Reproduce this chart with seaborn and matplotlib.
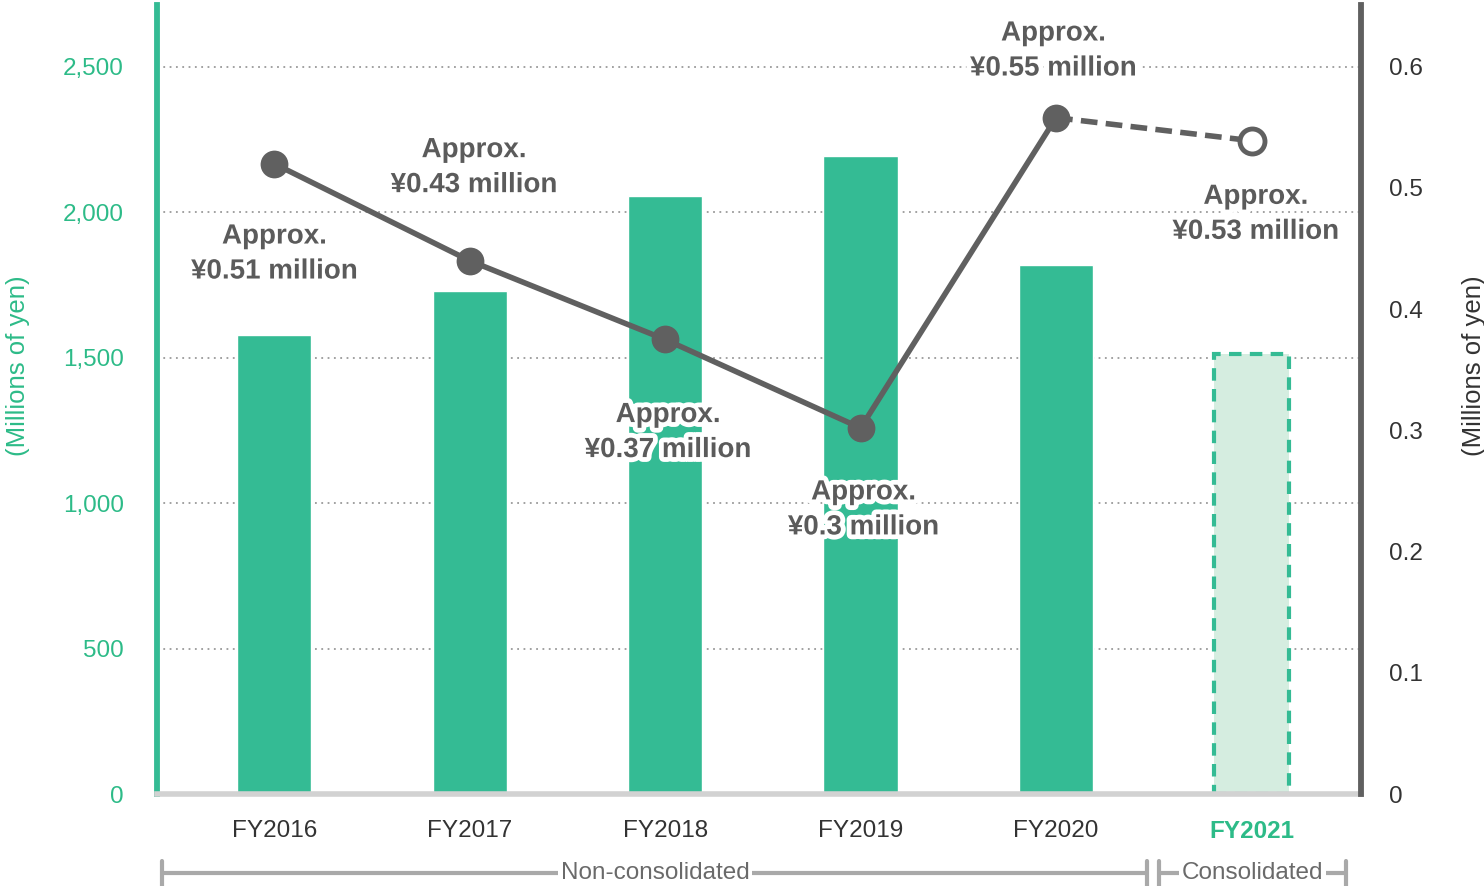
import numpy as np
import pandas as pd
import seaborn as sns
import matplotlib.pyplot as plt
import matplotlib.patheffects as pe
from matplotlib.transforms import blended_transform_factory

# data
years = ["FY2016", "FY2017", "FY2018", "FY2019", "FY2020", "FY2021"]
sales = [1578, 1730, 2056, 2194, 1819, 1513]          # millions of yen (bars, left axis)
per_head = [0.52, 0.44, 0.375, 0.302, 0.558, 0.539]   # millions of yen (line, right axis)
labels = ["Approx.\n¥0.51 million", "Approx.\n¥0.43 million", "Approx.\n¥0.37 million",
          "Approx.\n¥0.3 million", "Approx.\n¥0.55 million", "Approx.\n¥0.53 million"]
label_offsets = [(0, -65), (3, 67), (2, -67), (2, -59), (-2, 48), (3, -53)]  # points
left_ticks = [0, 500, 1000, 1500, 2000, 2500]
right_ticks = [0, 0.1, 0.2, 0.3, 0.4, 0.5, 0.6]

GREEN = "#34bb94"
GREEN_TXT = "#2dbb88"
LIGHT_GREEN = "#d5ede0"
GREY_LINE = "#606060"
GREY_TXT = "#5b5b5b"
DARK_TXT = "#333333"

sns.set_theme(style="white")
plt.rcParams["font.family"] = ["Liberation Sans", "DejaVu Sans"]

df = pd.DataFrame({"year": years, "sales": sales})

fig = plt.figure(figsize=(14.84, 8.86), dpi=100)
ax = fig.add_axes([0.1058, 0.1038, 0.8113, 0.8906])

sns.barplot(data=df, x="year", y="sales", color=GREEN, saturation=1, width=0.38, ax=ax, zorder=2)
last = ax.patches[5]
last.set_facecolor(LIGHT_GREEN)
last.set_edgecolor(GREEN)
last.set_linestyle((0, (3, 2)))
last.set_linewidth(3)

ax.set_xlim(-0.6, 5.56)
ax.set_ylim(0, 2713)
ax.set_yticks(left_ticks)
ax.set_yticklabels([f"{v:,}" for v in left_ticks], color=GREEN_TXT, fontsize=17.5)
ax.yaxis.grid(True, linestyle=(0, (1, 2.5)), color="#9a9a9a", linewidth=1.3, zorder=0)
ax.set_axisbelow(True)
ax.tick_params(axis="y", length=0, pad=24)
ax.tick_params(axis="x", length=0, pad=19)
ax.set_xlabel("")
ax.set_ylabel("")
for t in ax.get_xticklabels():
    t.set_fontsize(17.5)
    t.set_color(DARK_TXT)
ax.get_xticklabels()[5].set_color(GREEN_TXT)
ax.get_xticklabels()[5].set_fontweight("bold")

ax.spines["top"].set_visible(False)
ax.spines["right"].set_visible(False)
ax.spines["left"].set_color(GREEN)
ax.spines["left"].set_linewidth(4.2)
ax.spines["bottom"].set_color("#d2d2d2")
ax.spines["bottom"].set_linewidth(4)

# line on right axis
ax2 = ax.twinx()
ax2.set_ylim(0, 0.651)
x_idx = np.arange(len(years))
sns.lineplot(x=x_idx[:5], y=per_head[:5], ax=ax2, color=GREY_LINE, linewidth=4,
             marker="o", markersize=20, markeredgewidth=0, zorder=4)
ax2.plot(x_idx[4:], per_head[4:], color=GREY_LINE, linewidth=4, linestyle=(0, (3, 1.5)), zorder=3)
ax2.plot(x_idx[5], per_head[5], marker="o", markersize=18, markerfacecolor="white",
         markeredgecolor=GREY_LINE, markeredgewidth=3.5, linestyle="none", zorder=5)
ax2.set_yticks(right_ticks)
ax2.set_yticklabels([f"{v:g}" for v in right_ticks], color=DARK_TXT, fontsize=17.5)
ax2.tick_params(axis="y", length=0, pad=20)
for s in ["top", "left", "bottom"]:
    ax2.spines[s].set_visible(False)
ax2.spines["right"].set_color(GREY_LINE)
ax2.spines["right"].set_linewidth(4.2)
ax2.grid(False)

for i, (lab, off) in enumerate(zip(labels, label_offsets)):
    ax2.annotate(lab, xy=(i, per_head[i]), xytext=off, textcoords="offset points",
                 ha="center", va="center", fontsize=20, fontweight="bold", color=GREY_TXT,
                 linespacing=1.45, zorder=6,
                 path_effects=[pe.withStroke(linewidth=7, foreground="white")])

# axis titles
fig.text(18 / 1484, 1 - 366 / 886, "(Millions of yen)", rotation=90, ha="center", va="center",
         color=GREEN_TXT, fontsize=18.5)
fig.text(1474 / 1484, 1 - 366 / 886, "(Millions of yen)", rotation=90, ha="center", va="center",
         color=DARK_TXT, fontsize=18.5)

# bottom brackets
tr = blended_transform_factory(ax.transData, fig.transFigure)
yb = 1 - 873 / 886
yt0, yt1 = 1 - 861 / 886, 1 - 886 / 886
BR = "#a9a9a9"
def px2x(px):
    return (px - 275.5) / 195.3
for a, b in [(163, 1148), (1160, 1346)]:
    ax.plot([px2x(a), px2x(b)], [yb, yb], transform=tr, color=BR, lw=3, clip_on=False)
    for p in (a, b):
        ax.plot([px2x(p), px2x(p)], [yt0, yt1], transform=tr, color=BR, lw=3, clip_on=False)
ax.text(px2x(656), yb, "Non-consolidated", transform=tr, ha="center", va="center", fontsize=17.5,
        color="#6a6a6a", bbox=dict(facecolor="white", edgecolor="none", pad=2))
ax.text(px2x(1253), yb, "Consolidated", transform=tr, ha="center", va="center", fontsize=17.5,
        color="#6a6a6a", bbox=dict(facecolor="white", edgecolor="none", pad=2))

fig.savefig("out.png", dpi=100)
